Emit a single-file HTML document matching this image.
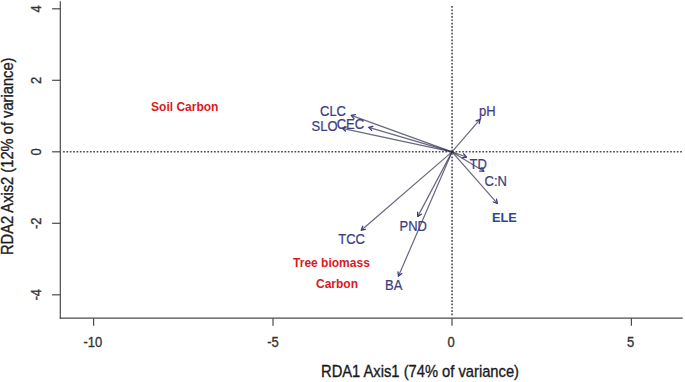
<!DOCTYPE html>
<html><head><meta charset="utf-8"><style>
html,body{margin:0;padding:0;background:#fff;}
svg{display:block;}
text{font-family:"Liberation Sans",sans-serif;}
</style></head><body>
<svg width="685" height="382" viewBox="0 0 685 382">
<rect width="685" height="382" fill="#fff"/>
<g stroke="#4a4a4a" stroke-width="1.2" fill="none">
<line x1="60.3" y1="1.3" x2="60.3" y2="318.8"/>
<line x1="59.7" y1="318.2" x2="682.8" y2="318.2"/>
<line x1="93.6" y1="318.2" x2="93.6" y2="325.8"/>
<line x1="273.0" y1="318.2" x2="273.0" y2="325.8"/>
<line x1="452.0" y1="318.2" x2="452.0" y2="325.8"/>
<line x1="631.4" y1="318.2" x2="631.4" y2="325.8"/>
<line x1="52.1" y1="8.8" x2="60.3" y2="8.8"/>
<line x1="52.1" y1="80.3" x2="60.3" y2="80.3"/>
<line x1="52.1" y1="151.8" x2="60.3" y2="151.8"/>
<line x1="52.1" y1="223.3" x2="60.3" y2="223.3"/>
<line x1="52.1" y1="294.8" x2="60.3" y2="294.8"/>
</g>
<g stroke="#4a4a4a" stroke-width="1.6" fill="none">
<line x1="63.09" y1="151.8" x2="683" y2="151.8" stroke-dasharray="1.7 1.654"/>
<line x1="452.07" y1="6.05" x2="452.07" y2="317" stroke-dasharray="1.7 1.643"/>
</g>
<g stroke="#2e2e4e" stroke-opacity="0.72" stroke-width="1.2" fill="none" stroke-linecap="round">
<line x1="452.0" y1="151.9" x2="351.3" y2="115.4"/>
<line x1="452.0" y1="151.9" x2="342.3" y2="128.3"/>
<line x1="452.0" y1="151.9" x2="368.8" y2="127.4"/>
<line x1="452.0" y1="151.9" x2="480.1" y2="119.4"/>
<line x1="452.0" y1="151.9" x2="466.4" y2="157.0"/>
<line x1="452.0" y1="151.9" x2="483.8" y2="171.2"/>
<line x1="452.0" y1="151.9" x2="497.3" y2="203.3"/>
<line x1="452.0" y1="151.9" x2="361.3" y2="230.2"/>
<line x1="452.0" y1="151.9" x2="417.8" y2="216.4"/>
<line x1="452.0" y1="151.9" x2="398.5" y2="276.1"/>
</g>
<g stroke="#3a3a80" stroke-width="1.3" fill="none" stroke-linecap="round" stroke-linejoin="round">
<polyline points="354.0,118.6 351.3,115.4 355.4,114.7"/>
<polyline points="345.4,131.1 342.3,128.3 346.3,127.0"/>
<polyline points="371.7,130.4 368.8,127.4 372.9,126.4"/>
<polyline points="476.1,120.8 480.1,119.4 479.3,123.5"/>
<polyline points="463.7,153.8 466.4,157.0 462.3,157.8"/>
<polyline points="481.8,167.5 483.8,171.2 479.6,171.1"/>
<polyline points="496.5,199.2 497.3,203.3 493.3,202.0"/>
<polyline points="365.4,229.4 361.3,230.2 362.7,226.2"/>
<polyline points="421.4,214.2 417.8,216.4 417.6,212.2"/>
<polyline points="401.9,273.6 398.5,276.1 398.0,271.9"/>
</g>
<g font-family="Liberation Sans, sans-serif" font-size="13" fill="#333" stroke="#333" stroke-width="0.3" text-anchor="middle">
<text transform="translate(92.8,347) scale(1,1.12)">-10</text>
<text transform="translate(273.0,347) scale(1,1.12)">-5</text>
<text transform="translate(451.2,347) scale(1,1.12)">0</text>
<text transform="translate(630.6,347) scale(1,1.12)">5</text>
<text transform="translate(41.1,8.8) rotate(-90) scale(1,1.12)">4</text>
<text transform="translate(41.1,80.3) rotate(-90) scale(1,1.12)">2</text>
<text transform="translate(41.1,151.8) rotate(-90) scale(1,1.12)">0</text>
<text transform="translate(41.1,223.3) rotate(-90) scale(1,1.12)">-2</text>
<text transform="translate(41.1,294.8) rotate(-90) scale(1,1.12)">-4</text>
</g>
<text font-family="Liberation Sans, sans-serif" font-size="14.7" fill="#1a1a1a" stroke="#1a1a1a" stroke-width="0.3" textLength="198" lengthAdjust="spacingAndGlyphs" transform="translate(321,376.7) scale(1,1.12)">RDA1 Axis1 (74% of variance)</text>
<text font-family="Liberation Sans, sans-serif" font-size="14.7" fill="#1a1a1a" stroke="#1a1a1a" stroke-width="0.3" text-anchor="middle" transform="translate(12.6,156.3) rotate(-90) scale(1,1.12)">RDA2 Axis2 (12% of variance)</text>
<text font-family="Liberation Sans, sans-serif" font-size="13" font-weight="normal" fill="#3d3d80" stroke="#3d3d80" stroke-width="0.2" transform="translate(320.0,116.1) scale(1,1.12)">CLC</text>
<text font-family="Liberation Sans, sans-serif" font-size="13" font-weight="normal" fill="#3d3d80" stroke="#3d3d80" stroke-width="0.2" transform="translate(311.5,130.8) scale(1,1.12)">SLO</text>
<text font-family="Liberation Sans, sans-serif" font-size="13" font-weight="normal" fill="#3d3d80" stroke="#3d3d80" stroke-width="0.2" transform="translate(336.7,129.4) scale(1,1.12)">CEC</text>
<text font-family="Liberation Sans, sans-serif" font-size="13" font-weight="normal" fill="#3d3d80" stroke="#3d3d80" stroke-width="0.2" transform="translate(479.0,116.2) scale(1,1.12)">pH</text>
<text font-family="Liberation Sans, sans-serif" font-size="13" font-weight="normal" fill="#3d3d80" stroke="#3d3d80" stroke-width="0.2" transform="translate(469.5,168.8) scale(1,1.12)">TD</text>
<text font-family="Liberation Sans, sans-serif" font-size="13" font-weight="normal" fill="#3d3d80" stroke="#3d3d80" stroke-width="0.2" transform="translate(484.5,186.0) scale(1,1.12)">C:N</text>
<text font-family="Liberation Sans, sans-serif" font-size="12.8" font-weight="bold" fill="#2e4a8c" stroke="#2e4a8c" stroke-width="0" transform="translate(491.9,222.0) scale(1,1.06)">ELE</text>
<text font-family="Liberation Sans, sans-serif" font-size="13" font-weight="normal" fill="#3d3d80" stroke="#3d3d80" stroke-width="0.2" transform="translate(338.3,244.1) scale(1,1.12)">TCC</text>
<text font-family="Liberation Sans, sans-serif" font-size="13" font-weight="normal" fill="#3d3d80" stroke="#3d3d80" stroke-width="0.2" transform="translate(399.5,230.7) scale(1,1.12)">PND</text>
<text font-family="Liberation Sans, sans-serif" font-size="13" font-weight="normal" fill="#3d3d80" stroke="#3d3d80" stroke-width="0.2" transform="translate(385.0,290.3) scale(1,1.12)">BA</text>
<text font-family="Liberation Sans, sans-serif" font-size="12" font-weight="bold" fill="#d91a22" stroke="#d91a22" stroke-width="0" transform="translate(151.1,110.8) scale(1,1.0)">Soil Carbon</text>
<text font-family="Liberation Sans, sans-serif" font-size="12" font-weight="bold" fill="#d91a22" stroke="#d91a22" stroke-width="0" transform="translate(293.1,267.3) scale(1,1.0)">Tree biomass</text>
<text font-family="Liberation Sans, sans-serif" font-size="12" font-weight="bold" fill="#d91a22" stroke="#d91a22" stroke-width="0" transform="translate(316.0,288.0) scale(1,1.0)">Carbon</text>
</svg>
</body></html>
